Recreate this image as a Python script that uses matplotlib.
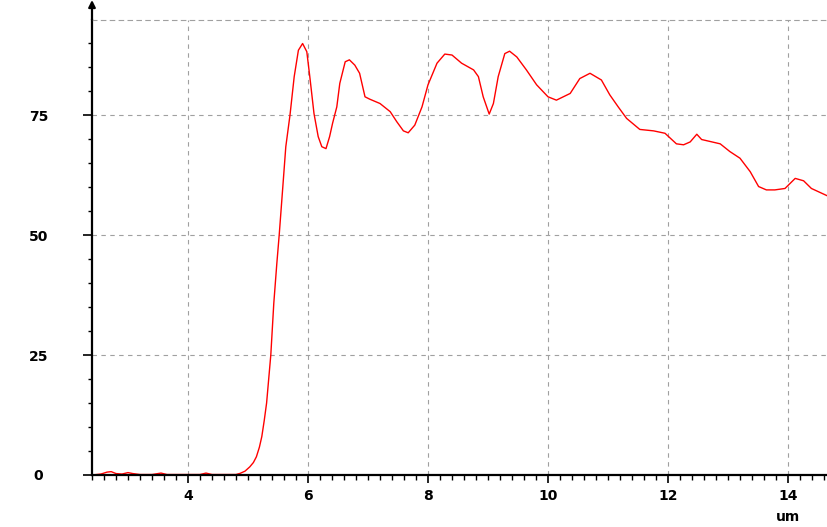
import matplotlib
matplotlib.use("Agg")
import matplotlib.pyplot as plt
from matplotlib.ticker import MultipleLocator

# wavelength (um) and transmission values
wavelength = [2.4, 2.55, 2.65, 2.72, 2.8, 2.9, 3.0, 3.08, 3.2, 3.4, 3.55, 3.65, 3.9,
              4.2, 4.3, 4.4, 4.6, 4.8, 4.87, 4.95, 5.03, 5.09, 5.14, 5.19, 5.23, 5.27,
              5.31, 5.38, 5.43, 5.48, 5.52, 5.58, 5.63, 5.7, 5.77, 5.84, 5.91, 5.98,
              6.03, 6.1, 6.17, 6.23, 6.3, 6.36, 6.41, 6.48, 6.53, 6.62, 6.69, 6.78,
              6.86, 6.95, 7.03, 7.2, 7.37, 7.48, 7.59, 7.67, 7.78, 7.9, 8.0, 8.15,
              8.28, 8.4, 8.56, 8.76, 8.84, 8.92, 9.02, 9.09, 9.17, 9.28, 9.36,
              9.48, 9.64, 9.81, 10.0, 10.14, 10.37, 10.53, 10.7, 10.89, 11.03,
              11.17, 11.31, 11.53, 11.76, 11.95, 12.14, 12.26, 12.37, 12.48, 12.56,
              12.87, 13.03, 13.2, 13.37, 13.51, 13.64, 13.78, 13.95, 14.12, 14.26,
              14.39, 14.65]
transmission = [0.0, 0.2, 0.6, 0.7, 0.3, 0.2, 0.5, 0.3, 0.1, 0.1, 0.4, 0.1, 0.1,
                 0.1, 0.4, 0.1, 0.1, 0.1, 0.35, 0.8, 1.7, 2.6, 3.8, 5.8, 8.0, 11.3,
                 15.0, 25.0, 35.8, 44.0, 50.0, 60.0, 68.4, 75.0, 83.0, 88.5, 89.9, 88.2,
                 83.0, 75.3, 70.5, 68.4, 68.0, 70.5, 73.3, 76.7, 81.6, 86.1, 86.5, 85.4,
                 83.7, 78.8, 78.3, 77.4, 75.7, 73.6, 71.7, 71.3, 72.9, 76.7, 81.3, 85.8,
                 87.7, 87.5, 85.8, 84.4, 83.0, 78.8, 75.2, 77.4, 83.0, 87.8, 88.3,
                 87.1, 84.4, 81.3, 78.8, 78.1, 79.5, 82.6, 83.7, 82.3, 79.2,
                 76.7, 74.3, 72.0, 71.7, 71.2, 69.0, 68.8, 69.4, 71.0, 69.9,
                 69.0, 67.4, 66.0, 63.2, 60.1, 59.4, 59.4, 59.7, 61.8, 61.3,
                 59.7, 58.2]

x_major = [4, 6, 8, 10, 12, 14]
y_major = [0, 25, 50, 75]

fig = plt.figure(figsize=(8.27, 5.27), dpi=100)
ax = fig.add_axes([92 / 827, 52 / 527, 735 / 827, 455 / 527])

ax.plot(wavelength, transmission, color="red", lw=1.0)

ax.set_xlim(2.4, 14.65)
ax.set_ylim(0, 94.8)

ax.set_xticks(x_major)
ax.set_yticks(y_major)
ax.xaxis.set_minor_locator(MultipleLocator(0.2))
ax.yaxis.set_minor_locator(MultipleLocator(5))

ax.grid(True, which="major", color="#a0a0a0", linestyle=(0, (4, 4)), lw=0.8)

ax.spines["right"].set_visible(False)
ax.spines["top"].set_color("#a0a0a0")
ax.spines["top"].set_linestyle((0, (4, 4)))
ax.spines["top"].set_linewidth(0.8)
ax.spines["left"].set_linewidth(1.6)
ax.spines["bottom"].set_linewidth(1.6)

ax.tick_params(axis="x", which="major", direction="out", length=6, width=1.2,
               pad=4, labelsize=10)
ax.tick_params(axis="x", which="minor", direction="out", length=3.5, width=1.0)
ax.tick_params(axis="y", which="major", direction="out", length=6.5, width=1.2,
               pad=32, labelsize=10)
ax.tick_params(axis="y", which="minor", direction="out", length=3, width=1.0)

for lab in ax.get_xticklabels() + ax.get_yticklabels():
    lab.set_fontweight("bold")
for lab in ax.get_yticklabels():
    lab.set_horizontalalignment("center")

# arrow on top of the y axis
ax.annotate("", xy=(0, 20 / 455 + 1.0), xytext=(0, 1.0), xycoords="axes fraction",
            arrowprops=dict(arrowstyle="-|>", color="black", lw=1.6,
                            mutation_scale=10, shrinkA=0, shrinkB=0),
            annotation_clip=False)

fig.text(788 / 827, 1 - 517 / 527, "um", ha="center", va="center",
         fontsize=10, fontweight="bold")

fig.savefig("out.png", dpi=100)
